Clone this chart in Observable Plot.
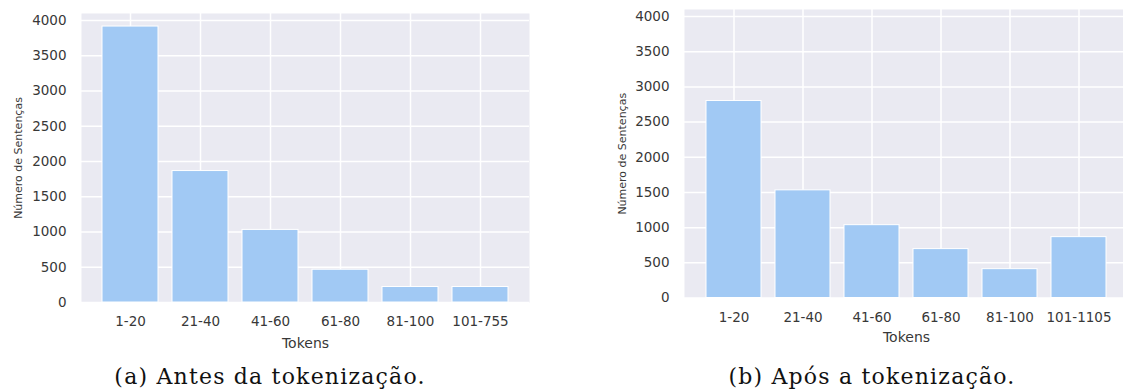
<!DOCTYPE html>
<html>
<head>
<meta charset="utf-8">
<script src="https://cdn.jsdelivr.net/npm/d3@7"></script>
<script src="https://cdn.jsdelivr.net/npm/@observablehq/plot@0.6"></script>
<style>
  html, body { margin: 0; padding: 0; background: #fff; overflow: hidden; }
  #wrap { position: relative; width: 1123px; height: 390px; overflow: hidden; }
  .panel { position: absolute; top: 0; }
  .panel svg { max-width: none !important; }
  .caption { position: absolute; top: 365px; font-family: "DejaVu Serif", serif; font-size: 22px; letter-spacing: 1.2px; line-height: 24px; color: #111; white-space: nowrap; transform: translateX(-50%); }
</style>
</head>
<body>
<div id="wrap">
  <div id="left" class="panel" style="left:0px; width:560px"></div>
  <div id="right" class="panel" style="left:590px; width:548px"></div>
  <div class="caption" style="left:270px">(a) Antes da tokenização.</div>
  <div class="caption" style="left:872px">(b) Após a tokenização.</div>
</div>
<script>
const categoriesA = ["1-20", "21-40", "41-60", "61-80", "81-100", "101-755"];
const valuesA = [3915, 1865, 1030, 465, 220, 220];
const categoriesB = ["1-20", "21-40", "41-60", "61-80", "81-100", "101-1105"];
const valuesB = [2800, 1530, 1035, 695, 410, 865];
const yTicks = [0, 500, 1000, 1500, 2000, 2500, 3000, 3500, 4000];
const yLabel = "Número de Sentenças";
const xLabel = "Tokens";

function panel(categories, values, opts) {
  const data = categories.map((c, i) => ({cat: c, val: values[i]}));
  return Plot.plot({
    width: opts.width,
    height: 360,
    marginLeft: opts.marginLeft,
    marginRight: opts.marginRight,
    marginTop: opts.marginTop,
    marginBottom: opts.marginBottom,
    style: {fontFamily: "'DejaVu Sans', sans-serif", color: "#383838", background: "transparent", overflow: "visible"},
    x: {type: "band", domain: categories, paddingInner: 0.2, paddingOuter: 0.29, align: 0.5},
    y: {domain: [0, 4100]},
    marks: [
      Plot.frame({fill: "#eaeaf2", stroke: "none"}),
      Plot.gridY(yTicks, {stroke: "white", strokeOpacity: 1, strokeWidth: 1.5}),
      Plot.gridX({stroke: "white", strokeOpacity: 1, strokeWidth: 1.5}),
      Plot.barY(data, {x: "cat", y: "val", fill: "#a1c9f4", stroke: "white", strokeWidth: 1}),
      Plot.axisY(yTicks, {tickSize: 0, tickPadding: 15, fontSize: 13.5, tickFormat: d => String(d), label: null}),
      Plot.axisX({tickSize: 0, tickPadding: 14, fontSize: 13.5, label: null}),
      Plot.text([yLabel], {frameAnchor: "left", rotate: -90, dx: opts.yLabelDx, text: d => d, fontSize: opts.yLabelSize, textAnchor: "middle", lineAnchor: "middle", fill: "#383838"}),
      Plot.text([xLabel], {frameAnchor: "bottom", dy: opts.xLabelDy, text: d => d, fontSize: 14, textAnchor: "middle", lineAnchor: "middle", fill: "#383838"})
    ]
  });
}

document.getElementById("left").append(panel(categoriesA, valuesA, {
  width: 560, marginLeft: 81, marginRight: 31, marginTop: 13, marginBottom: 58,
  yLabelDx: -63, yLabelSize: 11, xLabelDy: 41
}));
document.getElementById("right").append(panel(categoriesB, valuesB, {
  width: 548, marginLeft: 94, marginRight: 10, marginTop: 9, marginBottom: 62.5,
  yLabelDx: -62, yLabelSize: 11, xLabelDy: 40
}));
</script>
</body>
</html>
